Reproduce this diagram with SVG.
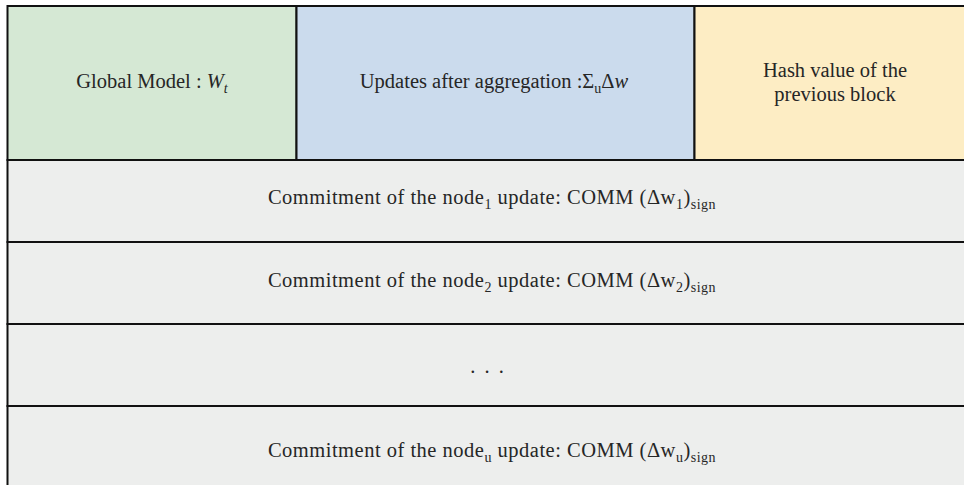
<svg xmlns="http://www.w3.org/2000/svg" width="964" height="485" viewBox="0 0 964 485">
<style>
.box{stroke:#111;stroke-width:2}
.t{font-family:"Liberation Serif","Times New Roman",serif;font-size:20.5px;fill:#262626;text-anchor:middle}
.c{letter-spacing:0.5px}
.s{font-size:14px}
</style>
<rect width="964" height="485" fill="#ffffff"/>
<g id="global-model">
<rect class="box" x="7.5" y="6" width="289" height="154" fill="#d5e8d4"/>
<text class="t" x="152" y="88">Global Model : <tspan font-style="italic">W</tspan><tspan class="s" font-style="italic" dy="5">t</tspan></text>
</g>
<g id="updates">
<rect class="box" x="296.5" y="6" width="398" height="154" fill="#cbdbed"/>
<text class="t" x="494" y="88">Updates after aggregation :Σ<tspan class="s" dy="5">u</tspan><tspan dy="-5">Δ</tspan><tspan font-style="italic">w</tspan></text>
</g>
<g id="hash">
<rect class="box" x="694.5" y="6" width="280" height="154" fill="#fdedc4"/>
<text class="t" x="835" y="77">Hash value of the</text>
<text class="t" x="835" y="101">previous block</text>
</g>
<g id="comm1">
<rect class="box" x="7.5" y="160" width="967" height="82" fill="#edeeed"/>
<text class="t c" x="492" y="204">Commitment of the node<tspan class="s" dy="5">1</tspan><tspan dy="-5"> update: COMM (Δw</tspan><tspan class="s" dy="5">1</tspan><tspan dy="-5">)</tspan><tspan class="s" dy="5">sign</tspan></text>
</g>
<g id="comm2">
<rect class="box" x="7.5" y="242" width="967" height="82" fill="#edeeed"/>
<text class="t c" x="492" y="287">Commitment of the node<tspan class="s" dy="5">2</tspan><tspan dy="-5"> update: COMM (Δw</tspan><tspan class="s" dy="5">2</tspan><tspan dy="-5">)</tspan><tspan class="s" dy="5">sign</tspan></text>
</g>
<g id="ellipsis">
<rect class="box" x="7.5" y="324" width="967" height="82" fill="#edeeed"/>
<text class="t" x="488" y="373" letter-spacing="2">. . .</text>
</g>
<g id="commu">
<rect class="box" x="7.5" y="406" width="967" height="90" fill="#edeeed"/>
<text class="t c" x="492" y="457">Commitment of the node<tspan class="s" dy="5">u</tspan><tspan dy="-5"> update: COMM (Δw</tspan><tspan class="s" dy="5">u</tspan><tspan dy="-5">)</tspan><tspan class="s" dy="5">sign</tspan></text>
</g>
<g id="connectors"></g>
</svg>
